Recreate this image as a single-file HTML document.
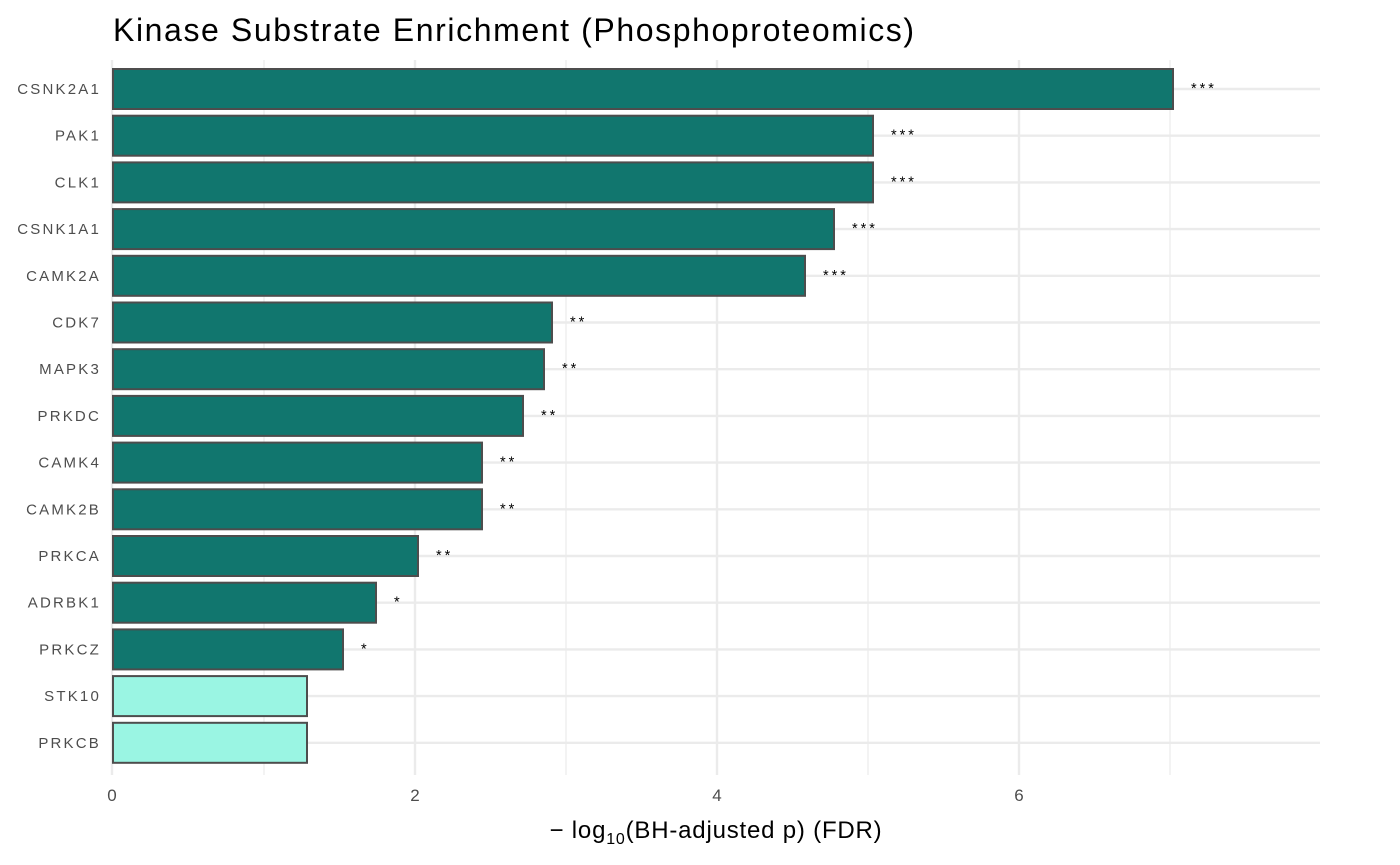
<!DOCTYPE html>
<html><head><meta charset="utf-8"><style>body{margin:0;background:#fff}svg{display:block}text{font-family:"Liberation Sans",sans-serif}.y{font-size:15px;letter-spacing:2.2px;fill:#4d4d4d;text-anchor:end}.s{font-size:14.5px;letter-spacing:3px;fill:#000}.t{font-size:17px;fill:#4d4d4d;text-anchor:middle}.d{fill:#11766e;stroke:#4d4d4d;stroke-width:2}.l{fill:#9af5e3;stroke:#4d4d4d;stroke-width:2}.h{stroke:#ebebeb;stroke-width:2.4}</style></head><body>
<svg width="1400" height="865" xmlns="http://www.w3.org/2000/svg">
<text x="113" y="41" style="font-size:32px;letter-spacing:1.6px" fill="#000">Kinase Substrate Enrichment (Phosphoproteomics)</text>
<g stroke="#ebebeb" stroke-width="1.2">
<line x1="264" y1="60" x2="264" y2="775"/><line x1="566" y1="60" x2="566" y2="775"/><line x1="868" y1="60" x2="868" y2="775"/><line x1="1170" y1="60" x2="1170" y2="775"/>
</g>
<g stroke="#ebebeb" stroke-width="2.4">
<line x1="112" y1="60" x2="112" y2="775"/><line x1="415" y1="60" x2="415" y2="775"/><line x1="717" y1="60" x2="717" y2="775"/><line x1="1019" y1="60" x2="1019" y2="775"/>
</g>
<line class="h" x1="112" y1="89" x2="1320" y2="89"/>
<line class="h" x1="112" y1="135.7" x2="1320" y2="135.7"/>
<line class="h" x1="112" y1="182.4" x2="1320" y2="182.4"/>
<line class="h" x1="112" y1="229.1" x2="1320" y2="229.1"/>
<line class="h" x1="112" y1="275.8" x2="1320" y2="275.8"/>
<line class="h" x1="112" y1="322.5" x2="1320" y2="322.5"/>
<line class="h" x1="112" y1="369.2" x2="1320" y2="369.2"/>
<line class="h" x1="112" y1="415.9" x2="1320" y2="415.9"/>
<line class="h" x1="112" y1="462.6" x2="1320" y2="462.6"/>
<line class="h" x1="112" y1="509.3" x2="1320" y2="509.3"/>
<line class="h" x1="112" y1="556" x2="1320" y2="556"/>
<line class="h" x1="112" y1="602.7" x2="1320" y2="602.7"/>
<line class="h" x1="112" y1="649.4" x2="1320" y2="649.4"/>
<line class="h" x1="112" y1="696.1" x2="1320" y2="696.1"/>
<line class="h" x1="112" y1="742.8" x2="1320" y2="742.8"/>

<rect class="d" x="113" y="69" width="1060" height="40"/>
<rect class="d" x="113" y="115.7" width="760" height="40"/>
<rect class="d" x="113" y="162.4" width="760" height="40"/>
<rect class="d" x="113" y="209.1" width="721" height="40"/>
<rect class="d" x="113" y="255.8" width="692" height="40"/>
<rect class="d" x="113" y="302.5" width="439" height="40"/>
<rect class="d" x="113" y="349.2" width="431" height="40"/>
<rect class="d" x="113" y="395.9" width="410" height="40"/>
<rect class="d" x="113" y="442.6" width="369" height="40"/>
<rect class="d" x="113" y="489.3" width="369" height="40"/>
<rect class="d" x="113" y="536" width="305" height="40"/>
<rect class="d" x="113" y="582.7" width="263" height="40"/>
<rect class="d" x="113" y="629.4" width="230" height="40"/>
<rect class="l" x="113" y="676.1" width="194" height="40"/>
<rect class="l" x="113" y="722.8" width="194" height="40"/>

<text class="y" x="101" y="94">CSNK2A1</text>
<text class="y" x="101" y="140.7">PAK1</text>
<text class="y" x="101" y="187.4">CLK1</text>
<text class="y" x="101" y="234.1">CSNK1A1</text>
<text class="y" x="101" y="280.8">CAMK2A</text>
<text class="y" x="101" y="327.5">CDK7</text>
<text class="y" x="101" y="374.2">MAPK3</text>
<text class="y" x="101" y="420.9">PRKDC</text>
<text class="y" x="101" y="467.6">CAMK4</text>
<text class="y" x="101" y="514.3">CAMK2B</text>
<text class="y" x="101" y="561">PRKCA</text>
<text class="y" x="101" y="607.7">ADRBK1</text>
<text class="y" x="101" y="654.4">PRKCZ</text>
<text class="y" x="101" y="701.1">STK10</text>
<text class="y" x="101" y="747.8">PRKCB</text>

<text class="s" x="1191" y="93">***</text>
<text class="s" x="891" y="139.7">***</text>
<text class="s" x="891" y="186.4">***</text>
<text class="s" x="852" y="233.1">***</text>
<text class="s" x="823" y="279.8">***</text>
<text class="s" x="570" y="326.5">**</text>
<text class="s" x="562" y="373.2">**</text>
<text class="s" x="541" y="419.9">**</text>
<text class="s" x="500" y="466.6">**</text>
<text class="s" x="500" y="513.3">**</text>
<text class="s" x="436" y="560">**</text>
<text class="s" x="394" y="606.7">*</text>
<text class="s" x="361" y="653.4">*</text>

<text class="t" x="112" y="801">0</text><text class="t" x="415" y="801">2</text><text class="t" x="717" y="801">4</text><text class="t" x="1019" y="801">6</text>
<text x="716" y="838" style="font-size:24px;letter-spacing:0.8px" text-anchor="middle" fill="#000">− log<tspan style="font-size:16px" dy="6">10</tspan><tspan dy="-6" style="font-size:24px">(BH-adjusted p) (FDR)</tspan></text>
</svg>
</body></html>
